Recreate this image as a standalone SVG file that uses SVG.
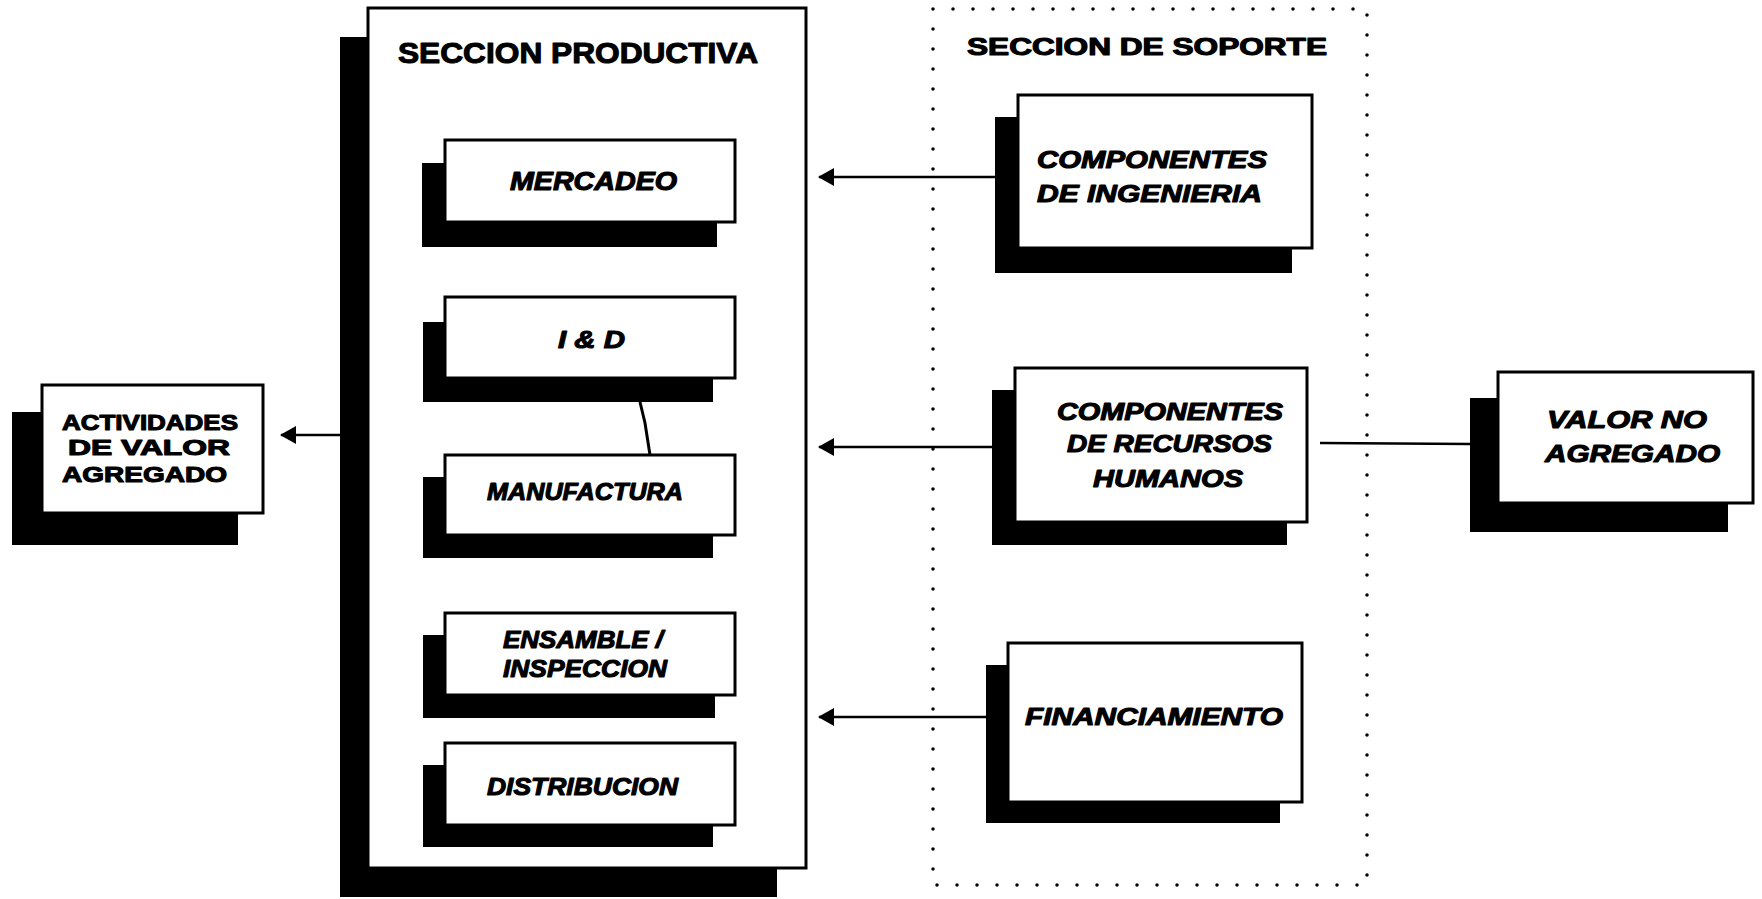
<svg xmlns="http://www.w3.org/2000/svg" width="1762" height="899" viewBox="0 0 1762 899">
<style>
.bg{fill:#fff}
.sh{fill:#000}
.bx{fill:#fff;stroke:#000;stroke-width:3}
.t{font-family:"Liberation Sans",Arial,sans-serif;font-weight:bold;fill:#000;stroke:#000;stroke-width:1.1;stroke-linejoin:round;font-size:24px}
.i{font-style:italic}
.ln{stroke:#000;stroke-width:2.5;fill:none}
.dot{fill:none;stroke:#000;stroke-width:3.5;stroke-linecap:round;stroke-dasharray:0 20}
</style>
<defs>
<marker id="ah" viewBox="0 0 16 20" refX="15" refY="10" markerWidth="16" markerHeight="20" markerUnits="userSpaceOnUse" orient="auto">
<path d="M16,10 L0,1 L0,19 Z" fill="#000"/>
</marker>
</defs>
<rect class="bg" x="0" y="0" width="1762" height="899"/>

<g id="seccion-soporte">
<rect class="dot" x="933" y="9" width="434" height="876"/>
<text class="t" x="967" y="55" style="font-size:23px" textLength="360" lengthAdjust="spacingAndGlyphs">SECCION DE SOPORTE</text>
</g>

<g id="seccion-productiva">
<rect class="sh" x="340" y="37" width="437" height="860"/>
<rect class="bx" x="368" y="8" width="438" height="860"/>
<text class="t" x="398" y="63" style="font-size:30px" textLength="360" lengthAdjust="spacingAndGlyphs">SECCION PRODUCTIVA</text>
</g>

<g id="actividades">
<rect class="sh" x="12" y="412" width="226" height="133"/>
<rect class="bx" x="42" y="385" width="221" height="128"/>
<text class="t" style="font-size:22px" x="62" y="430" textLength="176" lengthAdjust="spacingAndGlyphs">ACTIVIDADES</text>
<text class="t" style="font-size:22px" x="68" y="455" textLength="162" lengthAdjust="spacingAndGlyphs">DE VALOR</text>
<text class="t" style="font-size:22px" x="62" y="482" textLength="165" lengthAdjust="spacingAndGlyphs">AGREGADO</text>
</g>

<g id="mercadeo">
<rect class="sh" x="422" y="163" width="295" height="84"/>
<rect class="bx" x="445" y="140" width="290" height="82"/>
<text class="t i" style="font-size:25px" x="510" y="190" textLength="167" lengthAdjust="spacingAndGlyphs">MERCADEO</text>
</g>

<g id="iyd">
<rect class="sh" x="423" y="322" width="290" height="80"/>
<rect class="bx" x="445" y="297" width="290" height="81"/>
<text class="t i" x="558" y="348" textLength="67" lengthAdjust="spacingAndGlyphs">I &amp; D</text>
</g>

<g id="manufactura">
<rect class="sh" x="423" y="477" width="290" height="81"/>
<rect class="bx" x="445" y="455" width="290" height="80"/>
<text class="t i" x="487" y="500" textLength="196" lengthAdjust="spacingAndGlyphs">MANUFACTURA</text>
</g>

<g id="ensamble">
<rect class="sh" x="423" y="635" width="292" height="83"/>
<rect class="bx" x="445" y="613" width="290" height="82"/>
<text class="t i" x="503" y="648" textLength="160" lengthAdjust="spacingAndGlyphs">ENSAMBLE /</text>
<text class="t i" x="503" y="677" textLength="164" lengthAdjust="spacingAndGlyphs">INSPECCION</text>
</g>

<g id="distribucion">
<rect class="sh" x="423" y="765" width="290" height="82"/>
<rect class="bx" x="445" y="743" width="290" height="82"/>
<text class="t i" x="487" y="795" textLength="191" lengthAdjust="spacingAndGlyphs">DISTRIBUCION</text>
</g>

<g id="componentes-ingenieria">
<rect class="sh" x="995" y="117" width="297" height="156"/>
<rect class="bx" x="1018" y="95" width="294" height="153"/>
<text class="t i" x="1037" y="168" textLength="230" lengthAdjust="spacingAndGlyphs">COMPONENTES</text>
<text class="t i" x="1037" y="202" textLength="225" lengthAdjust="spacingAndGlyphs">DE INGENIERIA</text>
</g>

<g id="componentes-rrhh">
<rect class="sh" x="992" y="390" width="295" height="155"/>
<rect class="bx" x="1015" y="368" width="292" height="154"/>
<text class="t i" x="1057" y="420" textLength="226" lengthAdjust="spacingAndGlyphs">COMPONENTES</text>
<text class="t i" x="1067" y="452" textLength="205" lengthAdjust="spacingAndGlyphs">DE RECURSOS</text>
<text class="t i" x="1093" y="487" textLength="150" lengthAdjust="spacingAndGlyphs">HUMANOS</text>
</g>

<g id="financiamiento">
<rect class="sh" x="986" y="665" width="294" height="158"/>
<rect class="bx" x="1008" y="643" width="294" height="159"/>
<text class="t i" x="1025" y="725" textLength="258" lengthAdjust="spacingAndGlyphs">FINANCIAMIENTO</text>
</g>

<g id="valor-no-agregado">
<rect class="sh" x="1470" y="398" width="258" height="134"/>
<rect class="bx" x="1498" y="372" width="255" height="131"/>
<text class="t i" x="1547" y="428" textLength="160" lengthAdjust="spacingAndGlyphs">VALOR NO</text>
<text class="t i" x="1545" y="462" textLength="175" lengthAdjust="spacingAndGlyphs">AGREGADO</text>
</g>

<g id="connectors">
<line class="ln" x1="340" y1="435" x2="281" y2="435" marker-end="url(#ah)"/>
<line class="ln" x1="995" y1="177" x2="819" y2="177" marker-end="url(#ah)"/>
<line class="ln" x1="992" y1="447" x2="819" y2="447" marker-end="url(#ah)"/>
<line class="ln" x1="986" y1="717" x2="819" y2="717" marker-end="url(#ah)"/>
<polyline class="ln" style="stroke-width:3" points="640,402 645,423 650,455"/>
<line class="ln" x1="1320" y1="443" x2="1470" y2="444"/>
</g>
</svg>
